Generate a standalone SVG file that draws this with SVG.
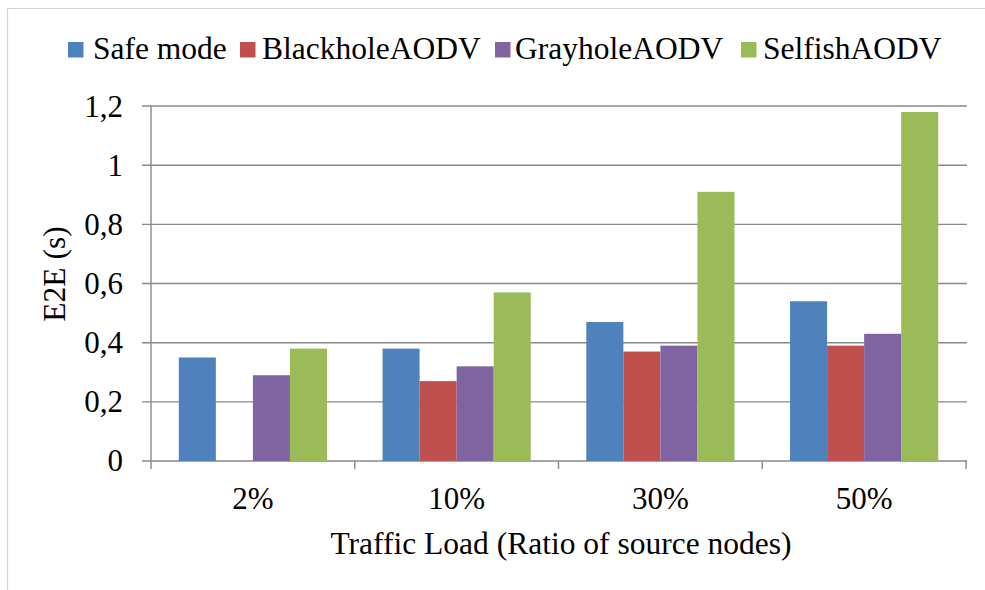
<svg xmlns="http://www.w3.org/2000/svg" width="985" height="590" viewBox="0 0 985 590">
<style>
text{font-family:"Liberation Serif","Times New Roman",serif;fill:#000}
.t{font-size:31px}
.lg{font-size:31.5px}
.ya{text-anchor:end}
.xa{text-anchor:middle}
.grid{stroke:#898989;stroke-width:1.4;fill:none}
.s0{fill:#4F81BD}.s1{fill:#C0504D}.s2{fill:#8064A2}.s3{fill:#9BBB59}
</style>
<rect width="985" height="590" fill="#fff"/>
<g id="frame"><path d="M7.5 590V8.5H985" stroke="#d4d4d4" stroke-width="1.2" fill="none"/></g>
<g id="grid" class="grid">
<path d="M142 461H967M142 401.84H967M142 342.68H967M142 283.52H967M142 224.36H967M142 165.2H967M142 106.04H967"/>
<path d="M151 106V469M354.75 461V469M558.5 461V469M762.25 461V469M966 461V469"/>
</g>
<g id="yticks" class="t ya">
<text x="123" y="471" class="t ya">0</text>
<text x="123" y="412" class="t ya">0,2</text>
<text x="123" y="353" class="t ya">0,4</text>
<text x="123" y="293.5" class="t ya">0,6</text>
<text x="123" y="234.5" class="t ya">0,8</text>
<text x="123" y="175.5" class="t ya">1</text>
<text x="123" y="116.5" class="t ya">1,2</text>
</g>
<g id="bars">
<rect class="s0" x="178.8" y="357.47" width="37.05" height="103.53"/>
<rect class="s2" x="252.9" y="375.22" width="37.05" height="85.78"/>
<rect class="s3" x="289.95" y="348.6" width="37.05" height="112.4"/>
<rect class="s0" x="382.55" y="348.6" width="37.05" height="112.4"/>
<rect class="s1" x="419.6" y="381.13" width="37.05" height="79.87"/>
<rect class="s2" x="456.65" y="366.34" width="37.05" height="94.66"/>
<rect class="s3" x="493.7" y="292.4" width="37.05" height="168.6"/>
<rect class="s0" x="586.3" y="321.97" width="37.05" height="139.03"/>
<rect class="s1" x="623.35" y="351.55" width="37.05" height="109.45"/>
<rect class="s2" x="660.4" y="345.64" width="37.05" height="115.36"/>
<rect class="s3" x="697.45" y="191.82" width="37.05" height="269.18"/>
<rect class="s0" x="790.05" y="301.27" width="37.05" height="159.73"/>
<rect class="s1" x="827.1" y="345.64" width="37.05" height="115.36"/>
<rect class="s2" x="864.15" y="333.81" width="37.05" height="127.19"/>
<rect class="s3" x="901.2" y="111.96" width="37.05" height="349.04"/>
</g>
<g id="xticks">
<text x="253" y="509" class="t xa">2%</text>
<text x="456.6" y="509" class="t xa">10%</text>
<text x="660.4" y="509" class="t xa">30%</text>
<text x="864.1" y="509" class="t xa">50%</text>
</g>
<g id="xtitle"><text x="561" y="554" class="t xa" style="font-size:31.5px">Traffic Load (Ratio of source nodes)</text></g>
<g id="ytitle"><text transform="translate(65 274) rotate(-90)" class="t xa" style="font-size:31.5px">E2E (s)</text></g>
<g id="legend">
<rect class="s0" x="68" y="42" width="15.5" height="15.5"/>
<text x="93" y="59" class="lg">Safe mode</text>
<rect class="s1" x="240" y="42" width="15.5" height="15.5"/>
<text x="262" y="59" class="lg">BlackholeAODV</text>
<rect class="s2" x="495" y="42" width="15.5" height="15.5"/>
<text x="515" y="59" class="lg">GrayholeAODV</text>
<rect class="s3" x="741" y="42" width="15.5" height="15.5"/>
<text x="763" y="59" class="lg">SelfishAODV</text>
</g>
</svg>
